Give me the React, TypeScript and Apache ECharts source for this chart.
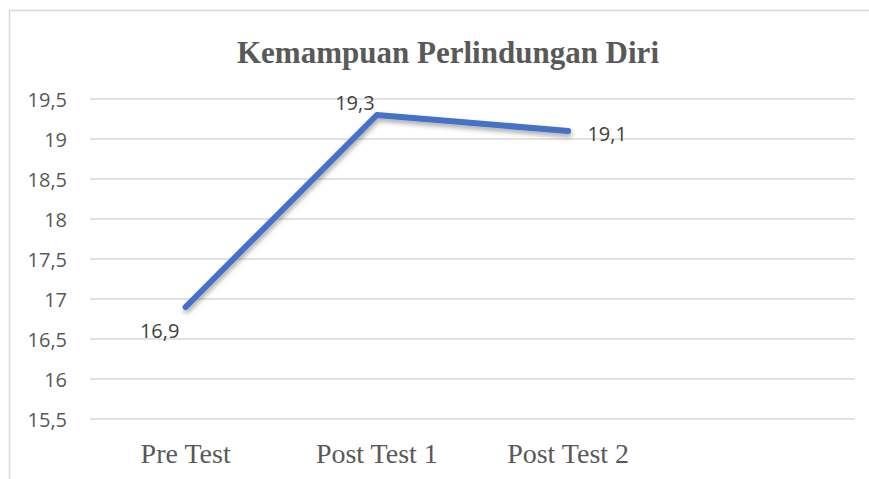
import React, { useEffect, useRef } from "react";
import * as echarts from "echarts";

const TITLE = "Kemampuan Perlindungan Diri";
const categories = ["Pre Test", "Post Test 1", "Post Test 2", ""];
const values = [16.9, 19.3, 19.1];
const labelOffsets: [number, number][] = [
  [-26, 23],
  [-22, -13],
  [39, 2],
];
const yMin = 15.5;
const yMax = 19.5;
const yStep = 0.5;

export default function App() {
  const ref = useRef<HTMLDivElement>(null);
  useEffect(() => {
    if (!ref.current) return;
    const chart = echarts.init(ref.current, undefined, { renderer: "svg" });
    chart.setOption({
      animation: false,
      backgroundColor: "#ffffff",
      title: {
        text: TITLE,
        left: 443,
        top: 32,
        textAlign: "center",
        textStyle: {
          fontFamily: "Liberation Serif",
          fontWeight: "bold",
          fontSize: 31,
          color: "#595959",
        },
      },
      graphic: [
        {
          type: "rect",
          shape: { x: 9.5, y: 10.5, width: 875, height: 480 },
          style: { fill: "none", stroke: "#D9D9D9", lineWidth: 1.5 },
          silent: true,
        },
      ],
      grid: { left: 90, right: 14, top: 99, bottom: 60 },
      xAxis: {
        type: "category",
        data: categories,
        boundaryGap: true,
        axisLine: { show: false },
        axisTick: { show: false },
        axisLabel: {
          margin: 20,
          fontFamily: "Liberation Serif",
          fontSize: 28,
          color: "#595959",
        },
      },
      yAxis: {
        type: "value",
        min: yMin,
        max: yMax,
        interval: yStep,
        axisLine: { show: false },
        axisTick: { show: false },
        splitLine: { lineStyle: { color: "#D9D9D9", width: 1.5 } },
        axisLabel: {
          margin: 23,
          fontFamily: "Open Sans",
          fontSize: 20,
          color: "#595959",
          formatter: (v: number) => String(v).replace(".", ","),
        },
      },
      series: [
        {
          type: "line",
          data: values.map((v, i) => ({
            value: v,
            label: {
              show: true,
              position: "inside",
              offset: labelOffsets[i],
            },
          })),
          showSymbol: true,
          symbol: "circle",
          symbolSize: 2,
          itemStyle: { color: "#4472C4" },
          lineStyle: {
            color: "#4472C4",
            width: 6,
            cap: "round",
            join: "round",
            shadowColor: "rgba(0,0,0,0.35)",
            shadowBlur: 5,
            shadowOffsetY: 3,
            shadowOffsetX: 1,
          },
          label: {
            show: true,
            fontFamily: "Open Sans",
            fontSize: 20,
            color: "#404040",
            formatter: (p: any) => String(p.value).replace(".", ","),
          },
        },
      ],
    });
    return () => chart.dispose();
  }, []);
  return (
    <div
      ref={ref}
      style={{ position: "absolute", left: 0, top: 0, width: 869, height: 479 }}
    />
  );
}
